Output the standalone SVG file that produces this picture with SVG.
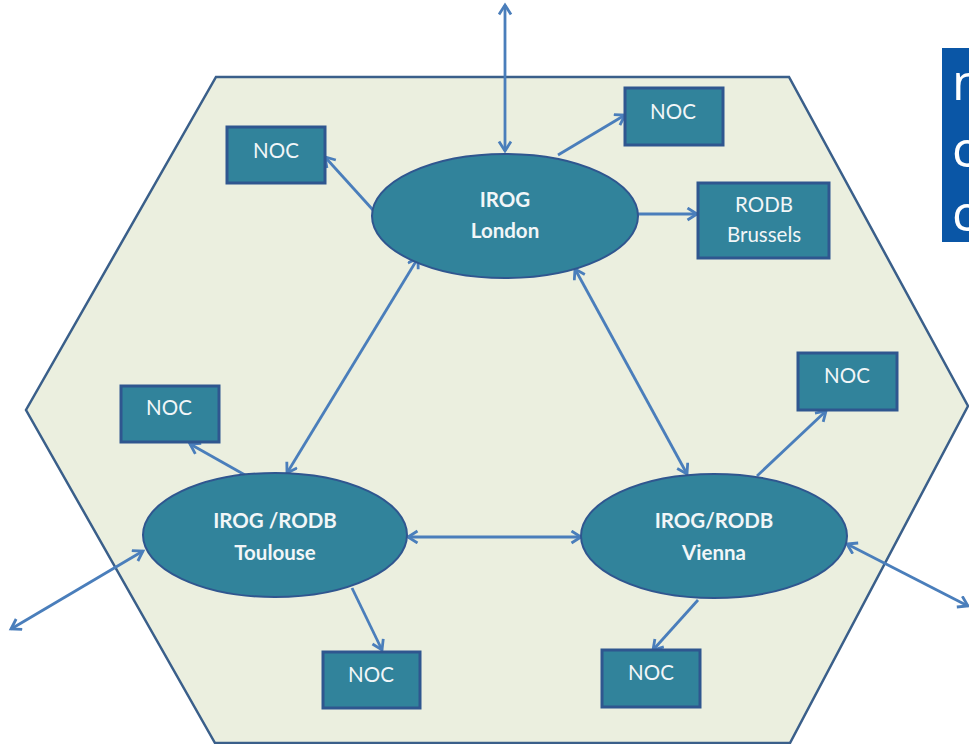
<svg xmlns="http://www.w3.org/2000/svg" width="969" height="744" viewBox="0 0 969 744">
<style>
.hex{fill:#EBEFDF;stroke:#3A5F8A;stroke-width:2.5}
.ell{fill:#31839B;stroke:#2F568F;stroke-width:2}
.box{fill:#31839B;stroke:#2F568F;stroke-width:3}
.lbl{font-family:Lato,"Open Sans","Liberation Sans",sans-serif;font-size:20.5px;fill:#F2F6F8;text-anchor:middle}
.b{font-weight:bold}
.con line{stroke:#4A7EBB;stroke-width:2.8;fill:none}
.end{marker-end:url(#ah)}
.both{marker-start:url(#ah);marker-end:url(#ah)}
.big{font-family:"Open Sans","Liberation Sans",sans-serif;font-size:50px;fill:#FFFFFF}
</style>
<defs>
<marker id="ah" markerUnits="userSpaceOnUse" markerWidth="16" markerHeight="16" refX="11" refY="7" orient="auto-start-reverse">
<path d="M1.5,1 L11,7 L1.5,13" fill="none" stroke="#4A7EBB" stroke-width="2.8"/>
</marker>
</defs>
<rect width="969" height="744" fill="#FFFFFF"/>
<polygon class="hex" points="216,77 789,77 968,406 790,743 215,743 26,410"/>
<g id="banner">
<rect x="942" y="48" width="30" height="194" fill="#0A56A6"/>
<text class="big" x="952" y="100">n</text>
<text class="big" x="952" y="167">c</text>
<text class="big" x="952" y="231">c</text>
</g>
<g class="con" id="connectors">
<line class="both" x1="505" y1="5" x2="505" y2="151"/>
<line class="end" x1="558" y1="155" x2="625" y2="115"/>
<line class="end" x1="373" y1="210" x2="325" y2="157"/>
<line class="end" x1="638" y1="214" x2="697" y2="214"/>
<line class="both" x1="418" y1="258" x2="287" y2="473"/>
<line class="both" x1="575" y1="269" x2="687" y2="474"/>
<line class="both" x1="408" y1="537" x2="581" y2="537"/>
<line class="end" x1="245" y1="475" x2="190" y2="444"/>
<line class="both" x1="143" y1="551" x2="11" y2="629"/>
<line class="end" x1="352" y1="588" x2="382" y2="650"/>
<line class="end" x1="698" y1="600" x2="653" y2="650"/>
<line class="end" x1="757" y1="476" x2="826" y2="411"/>
<line class="both" x1="847" y1="544" x2="968" y2="606"/>
</g>
<g id="london">
<ellipse class="ell" cx="505" cy="216" rx="133" ry="62"/>
<text class="lbl b" x="505" y="207">IROG</text>
<text class="lbl b" x="505" y="238">London</text>
</g>
<g id="toulouse">
<ellipse class="ell" cx="275" cy="535" rx="132" ry="62"/>
<text class="lbl b" x="275" y="528">IROG /RODB</text>
<text class="lbl b" x="275" y="560">Toulouse</text>
</g>
<g id="vienna">
<ellipse class="ell" cx="714" cy="536" rx="133" ry="62"/>
<text class="lbl b" x="714" y="528">IROG/RODB</text>
<text class="lbl b" x="714" y="560">Vienna</text>
</g>
<g id="noc-tl">
<rect class="box" x="227" y="127" width="98" height="56"/>
<text class="lbl" x="276" y="158">NOC</text>
</g>
<g id="noc-tr">
<rect class="box" x="625" y="88" width="98" height="57"/>
<text class="lbl" x="673" y="119">NOC</text>
</g>
<g id="rodb-brussels">
<rect class="box" x="698" y="183" width="131" height="75"/>
<text class="lbl" x="764" y="212">RODB</text>
<text class="lbl" x="764" y="242">Brussels</text>
</g>
<g id="noc-l">
<rect class="box" x="121" y="386" width="98" height="56"/>
<text class="lbl" x="169" y="415">NOC</text>
</g>
<g id="noc-r">
<rect class="box" x="798" y="353" width="99" height="57"/>
<text class="lbl" x="847" y="383">NOC</text>
</g>
<g id="noc-bl">
<rect class="box" x="323" y="652" width="97" height="56"/>
<text class="lbl" x="371" y="682">NOC</text>
</g>
<g id="noc-br">
<rect class="box" x="602" y="650" width="98" height="57"/>
<text class="lbl" x="651" y="680">NOC</text>
</g>
</svg>
